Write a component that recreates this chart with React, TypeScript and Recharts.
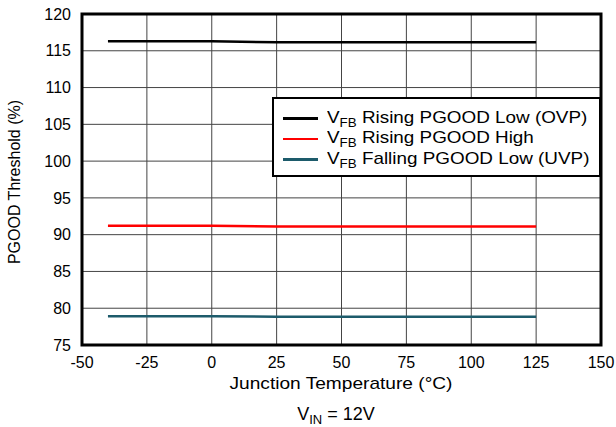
import { LineChart, Line, XAxis, YAxis, CartesianGrid, ReferenceArea } from 'recharts';

const temps = [-40, 0, 25, 50, 75, 100, 125];
const ovpLow = [116.3, 116.3, 116.15, 116.15, 116.15, 116.15, 116.15];
const risingHigh = [91.2, 91.2, 91.1, 91.1, 91.1, 91.1, 91.1];
const uvpLow = [78.9, 78.9, 78.85, 78.85, 78.85, 78.85, 78.85];

const xTicks = [-50, -25, 0, 25, 50, 75, 100, 125, 150];
const yTicks = [75, 80, 85, 90, 95, 100, 105, 110, 115, 120];

const series = [
  { key: 'ovp', name: 'Rising PGOOD Low (OVP)', color: '#000000' },
  { key: 'high', name: 'Rising PGOOD High', color: '#ff0000' },
  { key: 'uvp', name: 'Falling PGOOD Low (UVP)', color: '#1d5b6b' },
];

const data = temps.map((t, i) => ({
  t,
  ovp: ovpLow[i],
  high: risingHigh[i],
  uvp: uvpLow[i],
}));

const font = 'Arial, "Liberation Sans", sans-serif';

function LegendBox() {
  return (
    <div
      style={{
        position: 'absolute',
        left: 272,
        top: 97,
        width: 329,
        height: 80,
        border: '2.5px solid #000',
        background: '#fff',
        padding: '9px 0 0 9px',
        boxSizing: 'border-box',
        fontFamily: font,
        fontSize: 17,
        color: '#000',
      }}
    >
      {series.map((s) => (
        <div key={s.key} style={{ display: 'flex', alignItems: 'center', height: 20.5 }}>
          <div style={{ width: 35, height: 2.5, background: s.color, marginRight: 9 }} />
          <span
            style={{
              whiteSpace: 'nowrap',
              lineHeight: '20px',
              display: 'inline-block',
              transform: 'scaleX(1.11)',
              transformOrigin: 'left center',
            }}
          >
            V<span style={{ fontSize: 12, position: 'relative', top: 4 }}>FB</span> {s.name}
          </span>
        </div>
      ))}
    </div>
  );
}

export default function App() {
  return (
    <div style={{ position: 'absolute', left: 0, top: 0, width: 616, height: 427, background: '#fff' }}>
      <LineChart width={616} height={427} data={data} margin={{ top: 14, right: 15, left: 0, bottom: 52 }}>
        <CartesianGrid stroke="#444" strokeWidth={1} />
        <XAxis
          dataKey="t"
          type="number"
          domain={[-50, 150]}
          ticks={xTicks}
          height={30}
          axisLine={false}
          tickLine={false}
          tickMargin={6}
          tick={{ fill: '#000', fontSize: 16, fontFamily: font }}
        />
        <YAxis
          type="number"
          domain={[75, 120]}
          ticks={yTicks}
          width={82}
          axisLine={false}
          tickLine={false}
          tickMargin={5}
          tick={{ fill: '#000', fontSize: 16, fontFamily: font }}
        />
        {series.map((s) => (
          <Line
            key={s.key}
            dataKey={s.key}
            name={s.name}
            stroke={s.color}
            strokeWidth={2.5}
            dot={false}
            type="linear"
            isAnimationActive={false}
          />
        ))}
        <ReferenceArea x1={-50} x2={150} y1={75} y2={120} fill="none" stroke="#000" strokeWidth={3} ifOverflow="visible" />
      </LineChart>
      <LegendBox />
      <svg width={616} height={427} style={{ position: 'absolute', left: 0, top: 0, pointerEvents: 'none' }}>
        <text
          x={341}
          y={389}
          textAnchor="middle"
          fontFamily={font}
          fontSize={17}
          fill="#000"
          textLength={223}
          lengthAdjust="spacingAndGlyphs"
        >
          Junction Temperature (°C)
        </text>
        <text
          x={20}
          y={182}
          textAnchor="middle"
          fontFamily={font}
          fontSize={16}
          fill="#000"
          transform="rotate(-90 20 182)"
        >
          PGOOD Threshold (%)
        </text>
        <text x={336} y={420} textAnchor="middle" fontFamily={font} fontSize={18} fill="#000">
          V<tspan fontSize={13} dy={4}>IN</tspan>
          <tspan dy={-4}> = 12V</tspan>
        </text>
      </svg>
    </div>
  );
}
